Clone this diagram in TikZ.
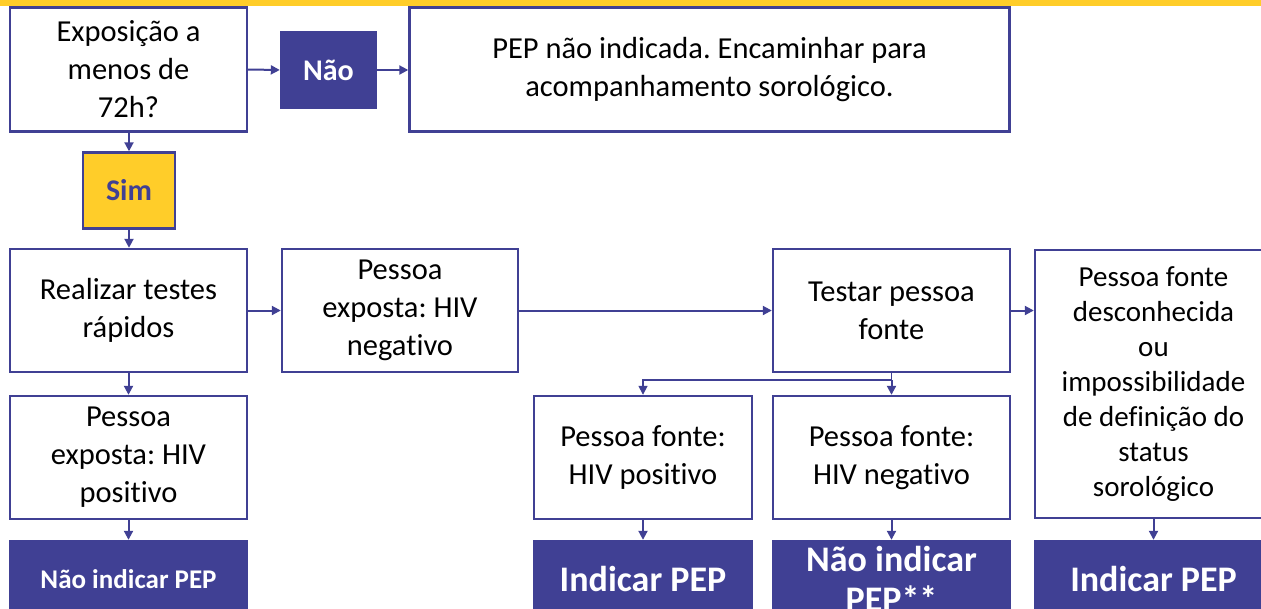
\documentclass[tikz,border=0pt]{standalone}
\usepackage{fontspec}
\setmainfont{Carlito}[Ligatures=NoCommon]
\usetikzlibrary{arrows.meta}
\definecolor{pblue}{RGB}{64,64,148}
\definecolor{pyellow}{RGB}{255,205,41}
\tikzset{
  wbox/.style={draw=pblue, line width=2.4pt, fill=white, inner sep=0pt, align=center,
    font=\fontsize{30.5pt}{38pt}\selectfont},
  lowtext/.style={execute at begin node={\rule{0pt}{32pt}}},
  dbox/.style={draw=pblue, line width=2.4pt, fill=pblue, text=white, inner sep=0pt, align=center,
    font=\bfseries\fontsize{36pt}{40pt}\selectfont},
  conn/.style={draw=pblue, line width=2pt, -{Triangle[length=9pt,width=9pt]}},
}
\begin{document}
\frenchspacing
\begin{tikzpicture}[x=1pt,y=-1pt]
\useasboundingbox (0,0) rectangle (1261,608);
\clip (0,0) rectangle (1261,608);
\fill[pyellow] (0,0) rectangle (1261,6);
\node[wbox, lowtext, minimum width=237pt, minimum height=124pt] (q) at (128.5,69.5) {Exposição a\\menos de\\72h?};
\node[dbox, minimum width=95pt, minimum height=76pt, font=\bfseries\fontsize{30pt}{36pt}\selectfont] (nao) at (328.5,70) {Não};
\node[wbox, lowtext, minimum width=600pt, minimum height=124pt] (pep) at (709.5,69.5) {PEP não indicada. Encaminhar para\\acompanhamento sorológico.};
\node[wbox, fill=pyellow, text=pblue, minimum width=92pt, minimum height=76pt, font=\bfseries\fontsize{30pt}{36pt}\selectfont] (sim) at (129,190.5) {Sim};
\node[wbox, lowtext, minimum width=237pt, minimum height=123pt] (real) at (128.5,310.5) {Realizar testes\\rápidos};
\node[wbox, lowtext, minimum width=236pt, minimum height=123pt] (expneg) at (400,310.5) {Pessoa\\exposta: HIV\\negativo};
\node[wbox, lowtext, minimum width=237pt, minimum height=123pt] (testar) at (891.5,310.5) {Testar pessoa\\fonte};
\node[wbox, lowtext, minimum width=237pt, minimum height=268pt, font=\fontsize{29pt}{35pt}\selectfont] (desc) at (1153.5,384) {Pessoa fonte\\desconhecida\\ou\\impossibilidade\\de definição do\\status\\sorológico};
\node[wbox, lowtext, minimum width=237pt, minimum height=123pt] (exppos) at (128.5,457.5) {Pessoa\\exposta: HIV\\positivo};
\node[wbox, lowtext, minimum width=218pt, minimum height=123pt] (fpos) at (643,457.5) {Pessoa fonte:\\HIV positivo};
\node[wbox, lowtext, minimum width=237pt, minimum height=123pt] (fneg) at (891.5,457.5) {Pessoa fonte:\\HIV negativo};
\node[dbox, minimum width=237pt, minimum height=76pt, font=\bfseries\fontsize{27pt}{32pt}\selectfont] (r1) at (128.5,579) {Não indicar PEP};
\node[dbox, minimum width=218pt, minimum height=76pt] (r2) at (643,579) {Indicar PEP};
\node[dbox, minimum width=237pt, minimum height=76pt] (r3) at (891.5,579) {Não indicar\\PEP**};
\node[dbox, minimum width=237pt, minimum height=76pt] (r4) at (1153.5,579) {Indicar PEP};
\draw[conn] (q.east) -- (nao.west);
\draw[conn] (nao.east) -- (pep.west |- nao.east);
\draw[conn] (q.south -| sim.north) -- (sim.north);
\draw[conn] (sim.south) -- (real.north -| sim.south);
\draw[conn] (real.east) -- (expneg.west);
\draw[conn] (expneg.east) -- (testar.west);
\draw[conn] (testar.east) -- (desc.west |- testar.east);
\draw[conn] (real.south) -- (exppos.north);
\draw[conn] (exppos.south) -- (r1.north);
\draw[draw=pblue, line width=1.6pt] (testar.south) -- ++(0,7) coordinate (split);
\draw[conn, line width=1.6pt] (split) -| (fpos.north);
\draw[conn] (split) -- (fneg.north);
\draw[conn] (fpos.south) -- (r2.north);
\draw[conn] (fneg.south) -- (r3.north);
\draw[conn] (desc.south) -- (r4.north);
\end{tikzpicture}
\end{document}
